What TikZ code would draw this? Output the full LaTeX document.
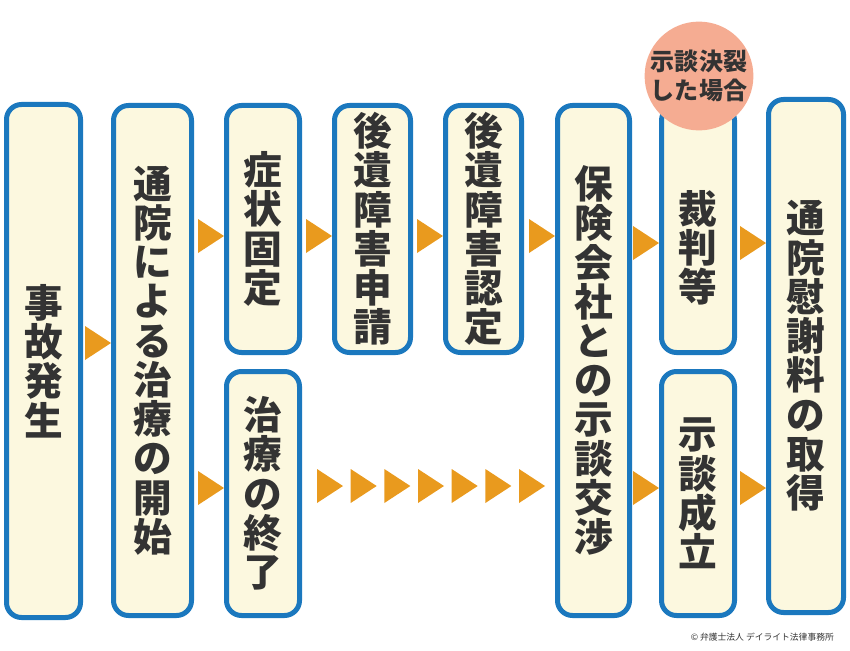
\documentclass[tikz,border=0pt]{standalone}
\usepackage{fontspec}
\setmainfont{Noto Sans CJK JP}
\usetikzlibrary{calc}
\definecolor{boxblue}{HTML}{1B78BE}
\definecolor{boxcream}{HTML}{FCF8DF}
\definecolor{arroworange}{HTML}{E99A1E}
\definecolor{badgesalmon}{HTML}{F5AC92}
\definecolor{textgray}{HTML}{333333}

\begin{document}
\begin{tikzpicture}[
    x=0.03cm, y=-0.03cm,
    flow box/.style n args={2}{rectangle, rounded corners=0.45cm, draw=boxblue, fill=boxcream, line width=0.15cm, minimum width=#1*0.03cm, minimum height=#2*0.03cm, inner sep=0pt, align=center, text=textgray, font=\bfseries\fontsize{33}{33.5}\selectfont},
    flow text/.style={align=center, text=textgray, font=\bfseries\fontsize{33}{33.5}\selectfont},
    badge/.style={circle, fill=badgesalmon, minimum size=108*0.03cm, inner sep=0pt, align=center, text=textgray, font=\bfseries\fontsize{20.5}{24.5}\selectfont},
    tri/.pic={\fill[arroworange] (-26,-17) -- (0,0) -- (-26,17) -- cycle;}
]
    \useasboundingbox (0,0) rectangle (850,650);

    % --- Boxes ---
    \node[flow box={74}{513}] (jiko) at (43.5,361) {事\\故\\発\\生};
    \node[flow box={78}{510}] (tsuin) at (152.5,360.5) {通\\院\\に\\よ\\る\\治\\療\\の\\開\\始};
    \node[flow box={73}{247}] (kotei) at (263,229) {症\\状\\固\\定};
    \node[flow box={73}{244}] (shuryo) at (263,493.5) {治\\療\\の\\終\\了};
    \node[flow box={76}{247}] (shinsei) at (372.5,229) {後\\遺\\障\\害\\申\\請};
    \node[flow box={76}{247}] (nintei) at (483.5,229) {後\\遺\\障\\害\\認\\定};
    \node[flow box={72}{510}] (kosho) at (593.5,360.5) {保\\険\\会\\社\\と\\の\\示\\談\\交\\渉};
    \node[flow box={73}{247}, label={[flow text, yshift=-19*0.03cm]center:裁\\判\\等}] (saiban) at (698,229) {};
    \node[flow box={73}{244}] (seiritsu) at (698,493.5) {示\\談\\成\\立};
    \node[flow box={75}{513}] (shutoku) at (806,356) {通\\院\\慰\\謝\\料\\の\\取\\得};

    % --- Badge ---
    \node[badge] (ketsuretsu) at (699,76) {示談決裂\\した場合};

    % --- Arrows ---
    \pic at (tsuin.west |- 0,343) {tri};
    \pic at (kotei.west |- 0,236) {tri};
    \pic at (shuryo.west |- 0,488) {tri};
    \pic at (shinsei.west |- 0,236) {tri};
    \pic at (nintei.west |- 0,236) {tri};
    \pic at (kosho.west |- 0,236) {tri};
    \pic at (saiban.west |- 0,243) {tri};
    \pic at (seiritsu.west |- 0,488) {tri};
    \pic at (shutoku.west |- 0,243) {tri};
    \pic at (shutoku.west |- 0,488) {tri};
    \foreach \k in {0,...,6}
        \pic at ({343+33.67*\k},486) {tri};

    \node[anchor=east, text=textgray, font=\fontsize{7.5}{8}\selectfont] (credit) at (838,637) {© 弁護士法人 デイライト法律事務所};
\end{tikzpicture}
\end{document}
